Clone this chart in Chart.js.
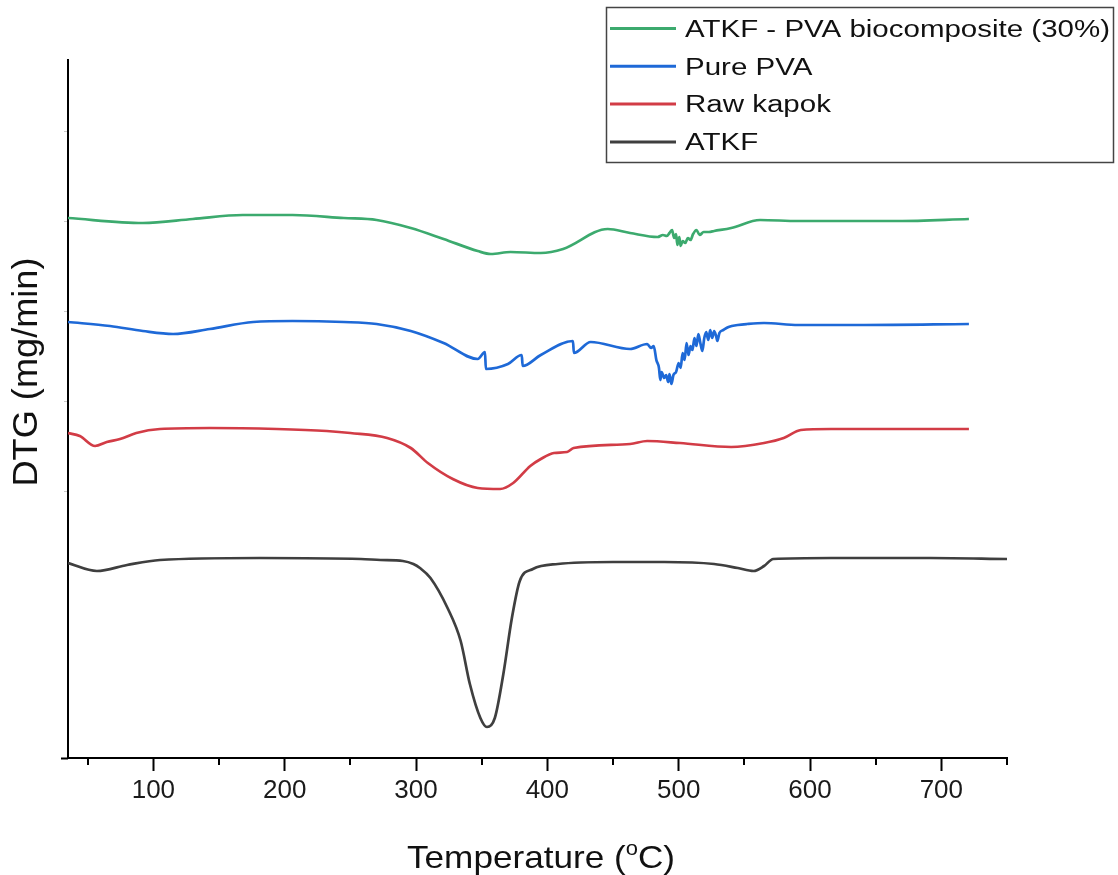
<!DOCTYPE html>
<html>
<head>
<meta charset="utf-8">
<script src="https://cdn.jsdelivr.net/npm/chart.js@4.4.1/dist/chart.umd.min.js"></script>
<style>
html, body { margin: 0; padding: 0; background: #fff; }
#wrap { width: 1118px; height: 875px; position: relative; }
</style>
</head>
<body>
<div id="wrap"><canvas id="chart"></canvas></div>
<script>
// DTG curves (arbitrary offset units, curves stacked)
const seriesNames = ['ATKF - PVA biocomposite (30%)', 'Pure PVA', 'Raw kapok', 'ATKF'];
const seriesColors = ['#3caa6e', '#1e69d7', '#d23c46', '#3f3f3f'];

const compositeT   = [35, 92, 130, 168, 206, 245, 270, 296, 321, 347, 357, 372, 395, 412, 446, 463, 484, 488, 491, 493, 495, 496.5, 498, 499, 500.5, 501.5, 503, 505, 507, 509, 511, 513.5, 516, 519, 523, 527, 540, 562, 591, 629, 667, 721];
const compositeDTG = [5.40, 5.35, 5.39, 5.43, 5.43, 5.40, 5.38, 5.30, 5.19, 5.07, 5.04, 5.06, 5.05, 5.09, 5.29, 5.25, 5.21, 5.23, 5.22, 5.25, 5.28, 5.20, 5.24, 5.13, 5.21, 5.12, 5.17, 5.15, 5.20, 5.18, 5.24, 5.28, 5.23, 5.26, 5.26, 5.27, 5.30, 5.38, 5.37, 5.37, 5.37, 5.39];

const pvaT   = [35, 67, 92, 115, 143, 176, 206, 245, 270, 296, 321, 347, 352.5, 353.2, 370, 380.5, 381.2, 395, 419.5, 420.2, 433, 463, 476, 479, 481, 483, 485, 486, 487, 489, 490.5, 492, 493, 494.5, 496, 498, 500, 501.5, 503, 504.5, 506, 507.5, 509, 510.5, 512, 513.5, 515, 516.5, 518, 519.5, 521, 522.5, 524, 525.5, 527, 528.5, 529.5, 531, 534, 538, 545, 552, 565, 591, 641, 721];
const pvaDTG = [4.36, 4.32, 4.27, 4.24, 4.29, 4.36, 4.37, 4.36, 4.34, 4.27, 4.15, 3.99, 4.06, 3.89, 3.94, 4.03, 3.92, 4.03, 4.17, 4.05, 4.16, 4.09, 4.14, 4.10, 4.12, 3.98, 3.90, 3.78, 3.86, 3.80, 3.83, 3.76, 3.84, 3.74, 3.83, 3.86, 3.95, 3.90, 4.05, 3.98, 4.15, 4.03, 4.12, 4.08, 4.20, 4.12, 4.24, 4.15, 4.07, 4.20, 4.26, 4.18, 4.28, 4.20, 4.27, 4.22, 4.17, 4.25, 4.28, 4.31, 4.33, 4.34, 4.35, 4.33, 4.33, 4.34];

const kapokT   = [35, 44, 55.6, 64.5, 74.6, 87, 105, 143, 194, 232, 250, 278, 296, 309, 328, 347, 364, 374, 387, 395, 405, 415, 420, 463, 476, 501, 540, 565, 580, 593, 616, 667, 721];
const kapokDTG = [3.25, 3.22, 3.12, 3.16, 3.19, 3.25, 3.29, 3.30, 3.29, 3.27, 3.25, 3.20, 3.10, 2.95, 2.79, 2.70, 2.69, 2.75, 2.92, 2.99, 3.05, 3.06, 3.10, 3.14, 3.17, 3.15, 3.11, 3.15, 3.20, 3.28, 3.29, 3.29, 3.29];

const atkfT   = [35, 57, 80, 105, 181, 258, 273, 290, 298, 303, 311, 324, 334, 341, 349, 354, 360, 366.5, 373, 379, 389, 408, 450, 489, 527, 545, 557, 565, 572, 616, 692, 750];
const atkfDTG = [1.95, 1.87, 1.93, 1.98, 2.00, 1.99, 1.98, 1.97, 1.94, 1.90, 1.80, 1.50, 1.17, 0.74, 0.40, 0.31, 0.40, 0.84, 1.40, 1.77, 1.89, 1.94, 1.96, 1.96, 1.94, 1.90, 1.87, 1.92, 1.99, 2.00, 2.00, 1.99];

const xMajorTicks = [100, 200, 300, 400, 500, 600, 700];
const xMinorTicks = [50, 150, 250, 350, 450, 550, 650, 750];
const yTickValues = [6.27, 5.37, 4.47, 3.57, 2.67];

const FONT = '"Liberation Sans", Arial, sans-serif';

function pts(xs, ys) { return xs.map((x, i) => ({ x: x, y: ys[i] })); }

// minor ticks, titles and the boxed legend
const extras = {
    id: 'extras',
    afterDraw(chart) {
        const ctx = chart.ctx, xs = chart.scales.x, area = chart.chartArea;
        ctx.save();
        ctx.strokeStyle = '#000';
        ctx.lineWidth = 2;
        ctx.beginPath();
        xMinorTicks.forEach(v => {
            const px = Math.round(xs.getPixelForValue(v));
            ctx.moveTo(px, area.bottom);
            ctx.lineTo(px, area.bottom + 7);
        });
        // little overhang of the bottom axis left of the y axis
        ctx.moveTo(61, area.bottom + 0.5);
        ctx.lineTo(area.left, area.bottom + 0.5);
        ctx.stroke();

        ctx.fillStyle = '#111';
        // x title with superscript o
        const fs = 32;
        const partA = 'Temperature (', partSup = 'o', partC = 'C)';
        ctx.font = fs + 'px ' + FONT;
        const wA = ctx.measureText(partA).width, wC = ctx.measureText(partC).width;
        ctx.font = Math.round(fs * 0.62) + 'px ' + FONT;
        const wS = ctx.measureText(partSup).width;
        const total = wA + wS + wC;
        const sx = 268 / total;
        ctx.save();
        ctx.translate(541 - 134, 868);
        ctx.scale(sx, 1);
        ctx.textBaseline = 'alphabetic';
        ctx.font = fs + 'px ' + FONT;
        ctx.fillText(partA, 0, 0);
        ctx.font = Math.round(fs * 0.62) + 'px ' + FONT;
        ctx.fillText(partSup, wA, -fs * 0.40);
        ctx.font = fs + 'px ' + FONT;
        ctx.fillText(partC, wA + wS, 0);
        ctx.restore();

        // y title
        ctx.save();
        ctx.translate(27, 372);
        ctx.rotate(-Math.PI / 2);
        ctx.font = '35px ' + FONT;
        const yt = 'DTG (mg/min)';
        const sy = 229 / ctx.measureText(yt).width;
        ctx.scale(sy, 1);
        ctx.textAlign = 'center';
        ctx.textBaseline = 'middle';
        ctx.fillText(yt, 0, 0);
        ctx.restore();

        // legend box
        ctx.strokeStyle = '#444';
        ctx.lineWidth = 1.5;
        ctx.strokeRect(606.5, 7.5, 507, 155);
        ctx.font = '23px ' + FONT;
        const sl = 425 / ctx.measureText(seriesNames[0]).width;
        seriesNames.forEach((name, i) => {
            const cy = 28.5 + i * 37.8;
            ctx.strokeStyle = seriesColors[i];
            ctx.lineWidth = 3;
            ctx.beginPath();
            ctx.moveTo(610, cy);
            ctx.lineTo(676, cy);
            ctx.stroke();
            ctx.save();
            ctx.translate(685, cy + 8.3);
            ctx.scale(sl, 1);
            ctx.textBaseline = 'alphabetic';
            ctx.fillText(name, 0, 0);
            ctx.restore();
        });
        ctx.restore();
    }
};

const datasets = [
    { label: seriesNames[0], data: pts(compositeT, compositeDTG) },
    { label: seriesNames[1], data: pts(pvaT, pvaDTG) },
    { label: seriesNames[2], data: pts(kapokT, kapokDTG) },
    { label: seriesNames[3], data: pts(atkfT, atkfDTG) }
].map((d, i) => Object.assign(d, {
    borderColor: seriesColors[i],
    borderWidth: 2.7,
    pointRadius: 0,
    fill: false,
    cubicInterpolationMode: 'monotone'
}));

new Chart(document.getElementById('chart').getContext('2d'), {
    type: 'line',
    data: { datasets: datasets },
    plugins: [extras],
    options: {
        responsive: true,
        maintainAspectRatio: false,
        animation: false,
        layout: { padding: { top: 60, right: 111, left: 0, bottom: 0 } },
        plugins: { legend: { display: false }, tooltip: { enabled: false } },
        scales: {
            x: {
                type: 'linear', min: 35, max: 750,
                afterBuildTicks: s => { s.ticks = xMajorTicks.map(v => ({ value: v })); },
                afterFit: s => { s.height = 117; },
                grid: { drawOnChartArea: false, drawTicks: true, tickLength: 13, tickColor: '#000', tickWidth: 2 },
                border: { display: true, color: '#000', width: 2 },
                ticks: { color: '#1a1a1a', font: { family: FONT, size: 26 }, padding: 4, maxRotation: 0 }
            },
            y: {
                type: 'linear', min: 0, max: 6.98,
                afterBuildTicks: s => { s.ticks = yTickValues.map(v => ({ value: v })); },
                afterFit: s => { s.width = 68; },
                grid: { drawOnChartArea: false, drawTicks: true, tickLength: 4, tickColor: '#c8c8c8', tickWidth: 1 },
                border: { display: true, color: '#000', width: 2 },
                ticks: { display: false }
            }
        }
    }
});
</script>
</body>
</html>
